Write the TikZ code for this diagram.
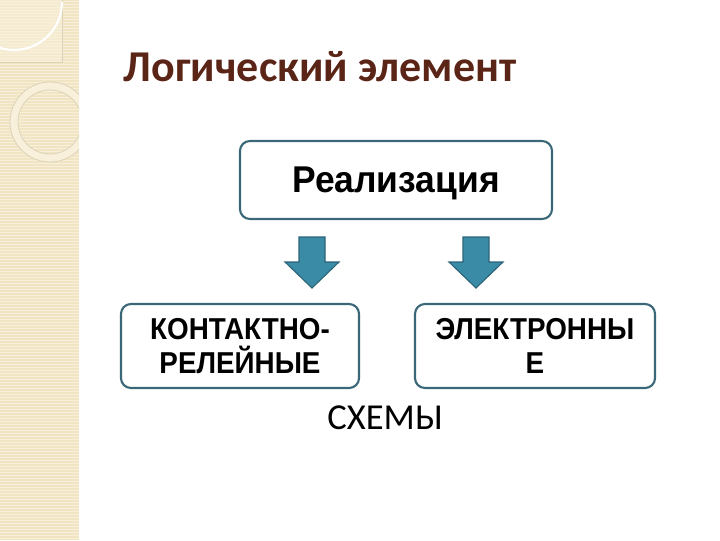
\documentclass[tikz,border=0pt]{standalone}
\usepackage{fontspec}
\setmainfont{Liberation Sans}
\newfontfamily\calibri{Carlito}
\newfontfamily\arialnarrow[FakeStretch=0.95]{Liberation Sans}
\newfontfamily\arialcond[FakeStretch=0.92]{Liberation Sans}
\usepackage{tikz}
\usetikzlibrary{positioning}

\definecolor{titlebrown}{HTML}{5A2416}
\definecolor{boxline}{HTML}{3A6878}
\definecolor{arrowfill}{HTML}{3A8CA6}
\definecolor{arrowline}{HTML}{2C6478}
\definecolor{stripbeige}{HTML}{F0E4C2}
\definecolor{stripline}{HTML}{F8F0DA}
\definecolor{ringgrey}{HTML}{DDD3BA}

\begin{document}
\begin{tikzpicture}[x=0.025cm, y=-0.025cm,
    box/.style={draw=boxline, line width=1.5pt, rounded corners=0.25cm, inner sep=0pt, align=center},
    lowbox/.style={box, minimum height=2.1cm, font=\arialcond\bfseries\fontsize{21.5}{24}\selectfont},
    downarrow/.style={fill=arrowfill, draw=arrowline, line width=0.8pt, line join=miter}]
    \useasboundingbox (0,0) rectangle (720,540);

    % Left decorative strip
    \fill[stripbeige] (0,0) rectangle (79,540);
    \foreach \yy in {1,4,...,540} \draw[stripline, line width=0.5pt] (0,\yy) -- (79,\yy);
    \fill[stripline, opacity=0.6] (0,0) rectangle (62,62);
    \draw[ringgrey, line width=0.6pt] (0,62) -- (62,62) -- (62,0);
    \draw[white, line width=1.5pt] (62,2) arc (0:110:48);
    \begin{scope}
        \clip (0,0) rectangle (79,540);
        \draw[stripline, line width=6pt] (50,122) circle (36);
        \draw[ringgrey, line width=0.6pt] (50,122) circle (40) (50,122) circle (32);
    \end{scope}

    % Title
    \node[anchor=base west, text=titlebrown, font=\calibri\bfseries\fontsize{31.3}{36}\selectfont] (title) at (119,81) {Логический элемент};

    % Top box
    \node[box, minimum width=7.8cm, minimum height=1.95cm, text depth=0pt, font=\arialnarrow\bfseries\fontsize{26.5}{32}\selectfont] (realiz) at (396,180) {Реализация};

    % Block arrows
    \foreach \ax in {312,476}
        \filldraw[downarrow] (\ax-13,237) -- (\ax+13,237) -- (\ax+13,262) -- (\ax+27,262)
            -- (\ax,288) -- (\ax-27,262) -- (\ax-13,262) -- cycle;

    % Bottom boxes
    \node[lowbox, minimum width=5.95cm] (relay) at (240,346) {КОНТАКТНО-\\РЕЛЕЙНЫЕ};
    \node[lowbox, minimum width=6cm] (electronic) at (535,346) {ЭЛЕКТРОННЫ\\Е};

    % Caption
    \node[font=\calibri\fontsize{26}{32}\selectfont] (schemes) at (385,418) {СХЕМЫ};
\end{tikzpicture}
\end{document}
